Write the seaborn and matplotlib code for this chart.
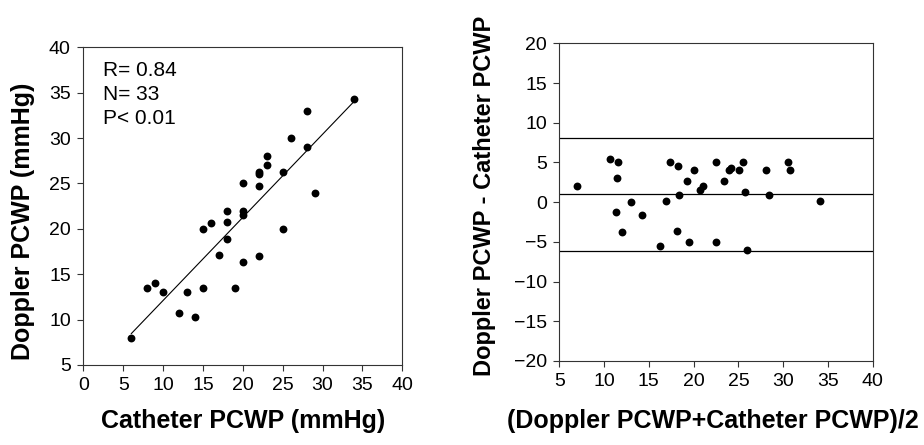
import numpy as np
import pandas as pd
import matplotlib
matplotlib.use('Agg')
import matplotlib.pyplot as plt
import seaborn as sns

# left panel: catheter vs doppler
catheter = [6, 8, 9, 10, 12, 13, 14, 15, 15, 16, 17, 18, 18, 18, 19, 20, 20, 20, 20,
            22, 22, 22, 22, 23, 23, 25, 25, 26, 28, 28, 29, 34]
doppler = [8, 13.5, 14, 13, 10.7, 13, 10.3, 13.5, 20, 20.6, 17.1, 22, 20.75, 18.9, 13.5,
           25, 22, 21.5, 16.4, 26.3, 26, 24.7, 17, 28, 27, 26.3, 20, 30, 33, 29, 24, 34.3]

# right panel: Bland-Altman
mean_pcwp = [7, 10.7, 11.5, 11.45, 11.3, 12.05, 13, 14.2, 16.2, 16.95, 17.4, 18.25, 18.1,
             18.4, 19.3, 19.45, 20, 20.75, 21, 22.5, 22.5, 23.35, 24, 24.17, 25.03, 25.55,
             25.7, 26, 28.05, 28.45, 30.5, 30.8, 34.15]
diff_pcwp = [2, 5.4, 5, 3, -1.3, -3.7, 0, -1.6, -5.5, 0.1, 5, 4.6, -3.6, 0.9, 2.7, -5, 4,
             1.55, 2.05, 5, -5, 2.7, 4, 4.3, 4, 5, 1.3, -6, 4, 0.9, 5, 4, 0.13]
limits = [8.1, 1.0, -6.2]

stats_text = ['R= 0.84', 'N= 33', 'P< 0.01']

sns.set_style('white')
plt.rcParams['font.family'] = ['Liberation Sans', 'DejaVu Sans']
plt.rcParams['text.color'] = 'black'
plt.rcParams['xtick.color'] = 'black'
plt.rcParams['ytick.color'] = 'black'

fig = plt.figure(figsize=(9.24, 4.45), dpi=100)
ax1 = fig.add_axes([0.0902, 0.1798, 0.3452, 0.7139])
ax2 = fig.add_axes([0.6053, 0.1888, 0.3392, 0.7139])

df1 = pd.DataFrame({'catheter': catheter, 'doppler': doppler})
sns.regplot(data=df1, x='catheter', y='doppler', ci=None, ax=ax1,
            scatter_kws={'s': 32, 'color': 'black', 'linewidths': 0, 'alpha': 1},
            line_kws={'color': 'black', 'linewidth': 0.8})
ax1.set_xlim(0, 40)
ax1.set_ylim(5, 40)
ax1.set_xticks(range(0, 41, 5))
ax1.set_yticks(range(5, 41, 5))
ax1.set_xlabel('')
ax1.set_ylabel('')
for i, t in enumerate(stats_text):
    ax1.text(0.062, 0.958 - i * 0.0755, t, transform=ax1.transAxes, fontsize=15,
             va='top', ha='left', color='black')

df2 = pd.DataFrame({'mean': mean_pcwp, 'diff': diff_pcwp})
sns.scatterplot(data=df2, x='mean', y='diff', ax=ax2, s=32, color='black', linewidth=0)
for v in limits:
    ax2.axhline(v, color='black', linewidth=0.9)
ax2.set_xlim(5, 40)
ax2.set_ylim(-20, 20)
ax2.set_xticks(range(5, 41, 5))
ax2.set_yticks(range(-20, 21, 5))
ax2.set_xlabel('')
ax2.set_ylabel('')

for ax in (ax1, ax2):
    for sp in ax.spines.values():
        sp.set_color('#333333')
        sp.set_linewidth(0.8)
    ax.tick_params(axis='both', which='major', labelsize=14, length=4, width=0.8,
                   direction='out', bottom=True, left=True, color='#333333',
                   labelcolor='black', pad=5)

fig.text(0.263, 0.054, 'Catheter PCWP (mmHg)', fontsize=18, fontweight='bold',
         ha='center', va='center', color='black')
fig.text(0.025, 0.503, 'Doppler PCWP (mmHg)', fontsize=18, fontweight='bold',
         ha='center', va='center', rotation=90, color='black')
fig.text(0.771, 0.054, '(Doppler PCWP+Catheter PCWP)/2', fontsize=18, fontweight='bold',
         ha='center', va='center', color='black')
fig.text(0.524, 0.56, 'Doppler PCWP - Catheter PCWP', fontsize=17, fontweight='bold',
         ha='center', va='center', rotation=90, color='black')

fig.savefig('out.png', dpi=100)
